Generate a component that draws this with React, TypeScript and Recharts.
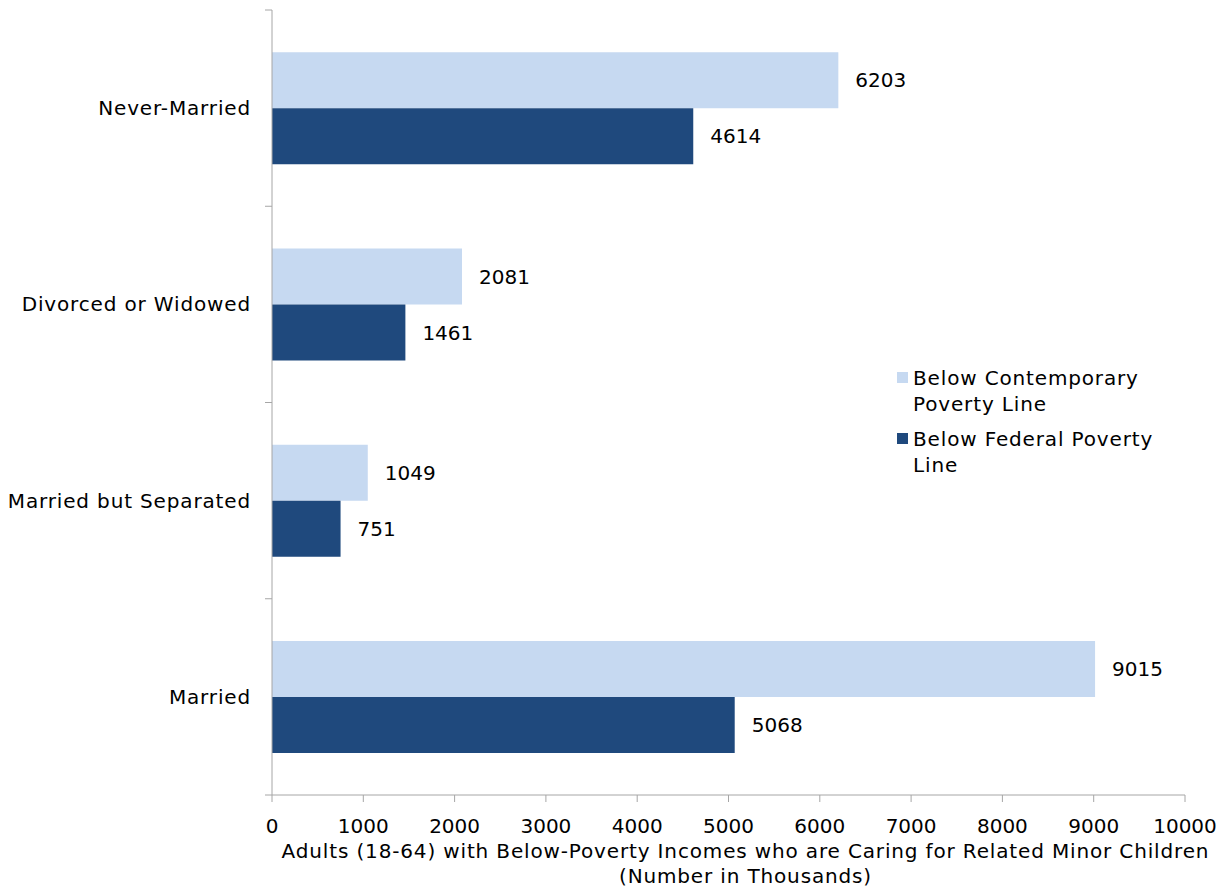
import { BarChart, Bar, XAxis, YAxis, LabelList } from 'recharts';

const categories = ['Never-Married', 'Divorced or Widowed', 'Married but Separated', 'Married'];
const contemporary = [6203, 2081, 1049, 9015];
const federal = [4614, 1461, 751, 5068];
const seriesNames = ['Below Contemporary Poverty Line', 'Below Federal Poverty Line'];
const xTicks = [0, 1000, 2000, 3000, 4000, 5000, 6000, 7000, 8000, 9000, 10000];
const colors = ['#c6d9f1', '#1f497d'];

const data = categories.map((name, i) => ({
  name,
  contemporary: contemporary[i],
  federal: federal[i],
}));

const font = '"DejaVu Sans", Verdana, sans-serif';
const axisGray = '#a6a6a6';
const spacing = '0.85px';

const LegendBox = () => (
  <div
    style={{
      position: 'absolute',
      left: 897,
      top: 365,
      fontFamily: font,
      fontSize: 20,
      letterSpacing: spacing,
      lineHeight: '26px',
      color: '#000',
      width: 280,
    }}
  >
    {seriesNames.map((n, i) => (
      <div key={n} style={{ display: 'flex', alignItems: 'flex-start', marginBottom: 9 }}>
        <span
          style={{
            width: 11,
            height: 11,
            background: colors[i],
            marginTop: 7,
            marginRight: 5,
            flexShrink: 0,
          }}
        />
        <span style={{ width: 245 }}>{n}</span>
      </div>
    ))}
  </div>
);

// category label plus the tick marks on the band boundaries
const CategoryTick = (props: any) => {
  const { x, y, payload, index, visibleTicksCount } = props;
  const half = payload && payload.offset ? payload.offset : 785 / categories.length / 2;
  const last = index === (visibleTicksCount ?? categories.length) - 1;
  return (
    <g>
      <line x1={x - 7} x2={x} y1={y - half} y2={y - half} stroke={axisGray} />
      {last && <line x1={x - 7} x2={x} y1={y + half} y2={y + half} stroke={axisGray} />}
      <text
        x={x - 21}
        y={y}
        dy="0.355em"
        textAnchor="end"
        fontFamily={font}
        fontSize={20}
        letterSpacing={spacing}
        fill="#000"
      >
        {payload.value}
      </text>
    </g>
  );
};

const AxisTitle = (props: any) => {
  const { viewBox } = props;
  const cx = viewBox.x + viewBox.width / 2 + 17;
  return (
    <text x={cx} textAnchor="middle" fontFamily={font} fontSize={20} letterSpacing={spacing} fill="#000">
      <tspan x={cx} y={viewBox.y + 63}>
        Adults (18-64) with Below-Poverty Incomes who are Caring for Related Minor Children
      </tspan>
      <tspan x={cx} y={viewBox.y + 88}>
        (Number in Thousands)
      </tspan>
    </text>
  );
};

const App = () => {
  return (
    <div style={{ position: 'absolute', left: 0, top: 0, width: 1228, height: 888, background: '#fff' }}>
      <BarChart
        width={1228}
        height={888}
        data={data}
        layout="vertical"
        margin={{ top: 10, right: 43, bottom: 0, left: 0 }}
        barCategoryGap="21.5%"
        barGap={0}
      >
        <XAxis
          type="number"
          domain={[0, 10000]}
          ticks={xTicks}
          interval={0}
          stroke={axisGray}
          tickSize={7}
          tickMargin={17}
          tick={{ fill: '#000', fontSize: 20, fontFamily: font }}
          height={93}
          label={<AxisTitle />}
        />
        <YAxis
          type="category"
          dataKey="name"
          width={272}
          stroke={axisGray}
          tickLine={false}
          tickSize={0}
          tickMargin={0}
          interval={0}
          tick={<CategoryTick />}
        />
        <Bar dataKey="contemporary" name={seriesNames[0]} fill={colors[0]} isAnimationActive={false}>
          <LabelList dataKey="contemporary" position="right" offset={17} fill="#000" fontSize={20} fontFamily={font} />
        </Bar>
        <Bar dataKey="federal" name={seriesNames[1]} fill={colors[1]} isAnimationActive={false}>
          <LabelList dataKey="federal" position="right" offset={17} fill="#000" fontSize={20} fontFamily={font} />
        </Bar>
      </BarChart>
      <LegendBox />
    </div>
  );
};

export default App;
